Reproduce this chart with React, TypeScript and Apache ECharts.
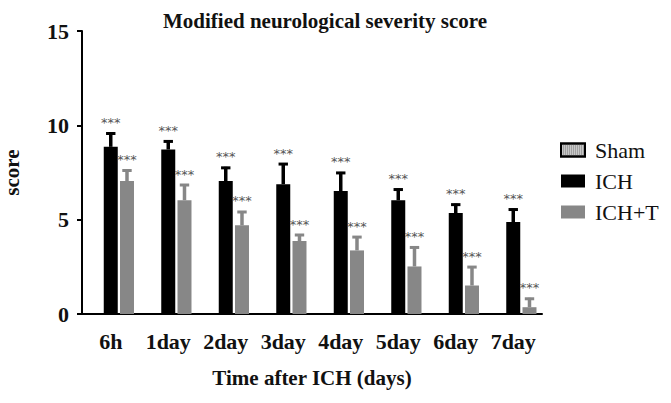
import React, { useEffect, useRef } from "react";
import * as echarts from "echarts";

const categories = ["6h", "1day", "2day", "3day", "4day", "5day", "6day", "7day"];
const shamValues = ["-", "-", "-", "-", "-", "-", "-", "-"];
const ichMeans = [8.86, 8.72, 7.05, 6.88, 6.52, 6.03, 5.35, 4.87];
const ichUpper = [9.62, 9.2, 7.8, 8.0, 7.53, 6.65, 5.85, 5.59];
const ichTMeans = [7.05, 6.03, 4.7, 3.87, 3.37, 2.52, 1.51, 0.36];
const ichTUpper = [7.66, 6.89, 5.46, 4.24, 4.13, 3.58, 2.54, 0.86];
const yTicks = [0, 5, 10, 15];

const SERIF = '"Liberation Serif", "DejaVu Serif", serif';
const BAR_W = 14;
const BAR_GAP = 0.16;
const OFFSET = BAR_W + BAR_W * BAR_GAP;

function errSeries(name: string, means: number[], uppers: number[], offset: number, color: string) {
  return {
    type: "custom",
    name: name + " error",
    data: means.map((m, i) => [i, m, uppers[i]]),
    encode: { x: 0, y: [1, 2] },
    z: 5,
    silent: true,
    itemStyle: { color: "#555" },
    renderItem: (params: any, api: any) => {
      const i = api.value(0);
      const m = api.value(1);
      const u = api.value(2);
      const base = api.coord([i, m]);
      const top = api.coord([i, u]);
      const x = base[0] + offset;
      return {
        type: "group",
        children: [
          {
            type: "line",
            shape: { x1: x, y1: base[1], x2: x, y2: top[1] },
            style: { stroke: color, lineWidth: 3.5 },
          },
          {
            type: "line",
            shape: { x1: x - 4.7, y1: top[1] + 1, x2: x + 4.7, y2: top[1] + 1 },
            style: { stroke: color, lineWidth: 3 },
          },
          {
            type: "text",
            x: x,
            y: top[1] - 10,
            style: {
              text: "***",
              fill: "#555",
              stroke: "none",
              fontSize: 13,
              fontFamily: '"DejaVu Sans", sans-serif',
              align: "center",
              verticalAlign: "middle",
            },
          },
        ],
      };
    },
  };
}

export default function App() {
  const ref = useRef<HTMLDivElement>(null);
  useEffect(() => {
    if (!ref.current) return;
    const chart = echarts.init(ref.current, null, { renderer: "svg" });
    chart.setOption({
      animation: false,
      backgroundColor: "#fff",
      title: {
        text: "Modified neurological severity score",
        left: 163,
        top: 10,
        padding: 0,
        textStyle: { fontFamily: SERIF, fontWeight: "bold", fontSize: 21, color: "#111" },
      },
      legend: {
        orient: "vertical",
        left: 560,
        top: 139,
        padding: 0,
        itemWidth: 24,
        itemHeight: 13,
        itemGap: 9,
        icon: "rect",
        data: ["Sham", "ICH", "ICH+T"],
        textStyle: { fontFamily: SERIF, fontSize: 22, color: "#111", lineHeight: 21, padding: [0, 0, 0, 5] },
      },
      grid: { left: 82, right: 129, top: 31, bottom: 89, outerBoundsMode: "none", containLabel: false },
      xAxis: {
        type: "category",
        data: categories,
        name: "Time after ICH (days)",
        nameLocation: "middle",
        nameGap: 53,
        nameTextStyle: { fontFamily: SERIF, fontWeight: "bold", fontSize: 21, color: "#111" },
        axisLine: { lineStyle: { color: "#000", width: 2 } },
        axisTick: { alignWithLabel: true, length: 7, lineStyle: { color: "#000", width: 2 } },
        axisLabel: { fontFamily: SERIF, fontWeight: "bold", fontSize: 22, color: "#111", margin: 16, interval: 0 },
      },
      yAxis: {
        type: "value",
        min: yTicks[0],
        max: yTicks[yTicks.length - 1],
        interval: 5,
        name: "score",
        nameLocation: "middle",
        nameGap: 60,
        nameTextStyle: { fontFamily: SERIF, fontWeight: "bold", fontSize: 21, color: "#111" },
        axisLine: { show: true, lineStyle: { color: "#000", width: 2 } },
        axisTick: { show: true, length: 5, lineStyle: { color: "#000", width: 2 } },
        axisLabel: { fontFamily: SERIF, fontWeight: "bold", fontSize: 22, color: "#111", margin: 13 },
        splitLine: { show: false },
      },
      series: [
        {
          type: "bar",
          name: "Sham",
          data: shamValues,
          barWidth: BAR_W,
          barGap: BAR_GAP * 100 + "%",
          itemStyle: {
            color: "#c8c8c8",
            borderColor: "#000",
            borderWidth: 2,
            decal: { symbol: "rect", symbolSize: 1, color: "#777", dashArrayX: [1, 1], dashArrayY: [1, 1] },
          },
        },
        {
          type: "bar",
          name: "ICH",
          data: ichMeans,
          barWidth: BAR_W,
          barGap: BAR_GAP * 100 + "%",
          itemStyle: { color: "#000" },
        },
        {
          type: "bar",
          name: "ICH+T",
          data: ichTMeans,
          barWidth: BAR_W,
          barGap: BAR_GAP * 100 + "%",
          itemStyle: { color: "#878787" },
        },
        errSeries("ICH", ichMeans, ichUpper, 0, "#000"),
        errSeries("ICH+T", ichTMeans, ichTUpper, OFFSET, "#878787"),
      ],
    });
    return () => chart.dispose();
  }, []);
  return <div ref={ref} style={{ width: 671, height: 403, position: "fixed", left: 0, top: 0 }} />;
}
